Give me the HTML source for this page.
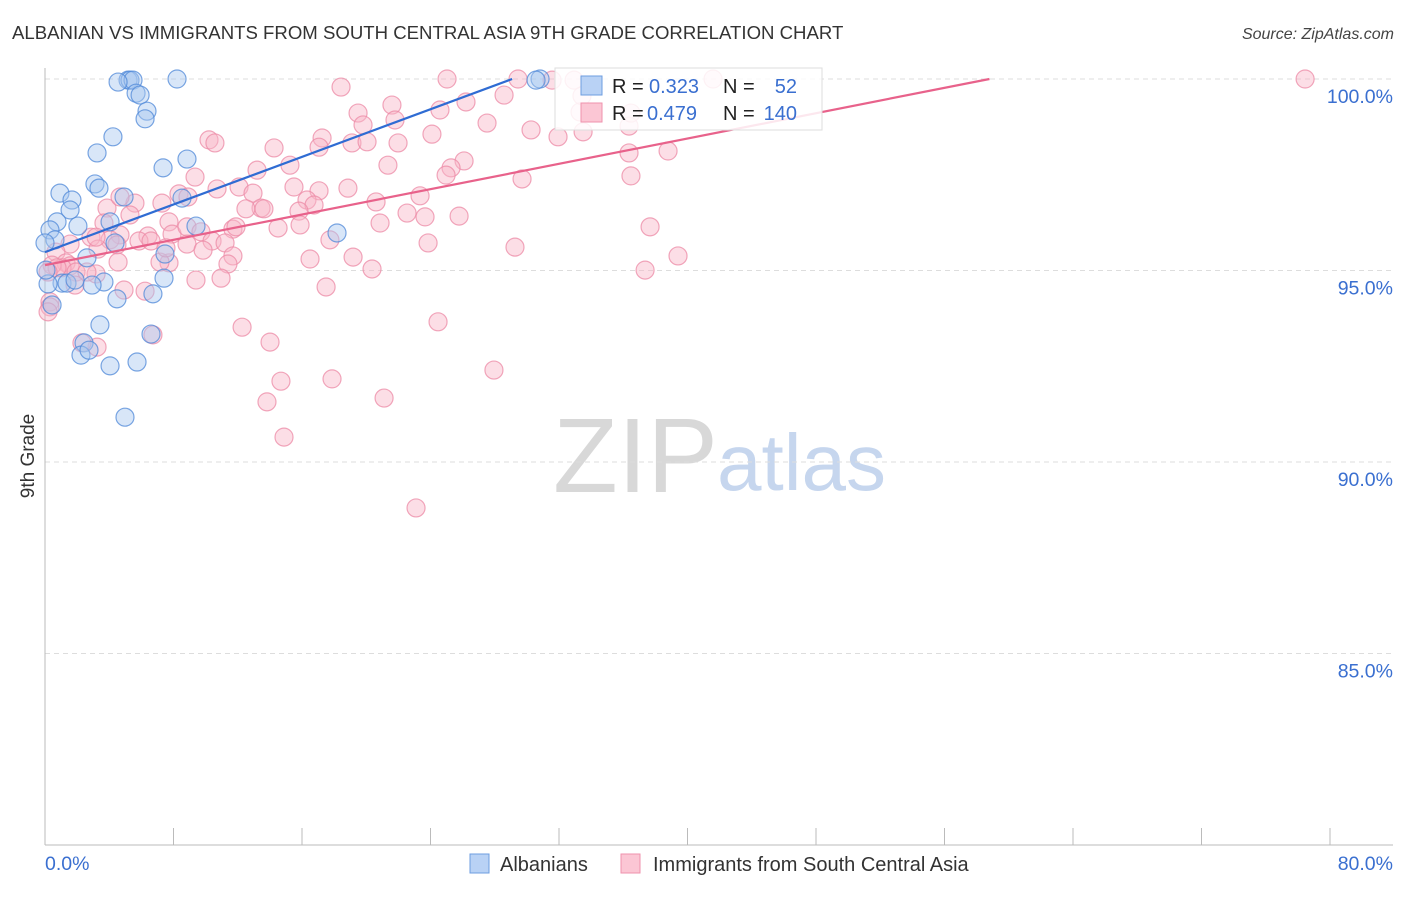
<!DOCTYPE html>
<html><head><meta charset="utf-8"><style>
body{margin:0;background:#fff;font-family:"Liberation Sans",sans-serif}
svg text{font-family:"Liberation Sans",sans-serif}
</style></head><body>
<svg id="chart" width="1406" height="892" viewBox="0 0 1406 892" xmlns="http://www.w3.org/2000/svg">
<text x="12" y="39" font-size="18.6" fill="#333">ALBANIAN VS IMMIGRANTS FROM SOUTH CENTRAL ASIA 9TH GRADE CORRELATION CHART</text>
<text x="1394" y="39" font-size="16" fill="#444" text-anchor="end" font-style="italic">Source: ZipAtlas.com</text>
<text x="0" y="0" font-size="19" fill="#333" text-anchor="middle" transform="translate(34,456) rotate(-90)">9th Grade</text>
<g>
<text x="553" y="492" font-size="106" fill="#d8d8d8" font-family="Liberation Serif">ZIP</text>
<text x="717" y="490" font-size="80" fill="#c6d6ee">atlas</text>
</g>
<g id="grid"></g><g id="axes"></g><g id="pts"></g><g id="trends"></g>
<g>
<rect x="555" y="68" width="267" height="62" fill="#fff" fill-opacity="0.85" stroke="#ddd"/>
<rect x="581" y="76" width="21" height="19" fill="#b9d2f5" stroke="#6d9de0"/>
<rect x="581" y="103" width="21" height="19" fill="#fbc6d4" stroke="#ef92ad"/>
<text x="612" y="93" font-size="20" fill="#222">R =</text>
<text x="649" y="93" font-size="20" fill="#3a6fd0">0.323</text>
<text x="723" y="93" font-size="20" fill="#222">N =</text>
<text x="797" y="93" font-size="20" fill="#3a6fd0" text-anchor="end">52</text>
<text x="612" y="120" font-size="20" fill="#222">R =</text>
<text x="647" y="120" font-size="20" fill="#3a6fd0">0.479</text>
<text x="723" y="120" font-size="20" fill="#222">N =</text>
<text x="797" y="120" font-size="20" fill="#3a6fd0" text-anchor="end">140</text>
</g>
<g>
<rect x="470" y="854" width="19" height="19" fill="#b9d2f5" stroke="#6d9de0"/>
<text x="500" y="871" font-size="20" fill="#333">Albanians</text>
<rect x="621" y="854" width="19" height="19" fill="#fbc6d4" stroke="#ef92ad"/>
<text x="653" y="871" font-size="20" fill="#333">Immigrants from South Central Asia</text>
</g>
</svg>
<script>
const yTicks=[100,95,90,85];
const yTickLabels=["100.0%","95.0%","90.0%","85.0%"];
const xTicks=[0,8,16,24,32,40,48,56,64,72,80];
const xEndLabels=["0.0%","80.0%"];
const blueX=[5.17,5.29,5.48,4.55,8.22,5.67,5.92,6.35,6.23,4.23,3.24,7.35,8.84,3.11,3.36,4.92,0.93,1.68,1.56,0.75,4.05,9.40,8.53,2.05,0.31,0.62,4.36,2.61,7.47,7.41,3.67,2.93,1.06,1.37,1.87,0.19,6.72,4.48,3.42,2.43,2.24,2.74,4.05,5.73,4.98,18.18,0.44,6.60,30.82,30.57,0,0.06];
const blueY=[99.97,99.97,99.97,99.92,100,99.63,99.58,99.16,98.96,98.49,98.07,97.68,97.91,97.26,97.15,96.92,97.02,96.84,96.58,96.27,96.27,96.16,96.89,96.16,96.06,95.80,95.72,95.33,95.43,94.80,94.70,94.62,94.67,94.67,94.75,94.65,94.39,94.26,93.58,93.11,92.79,92.92,92.51,92.61,91.17,95.98,94.10,93.34,100,99.97,95.72,95.01];
const pinkX=[78.45,25.03,29.45,41.59,32.94,18.43,28.58,21.60,19.49,26.21,24.59,27.52,19.80,21.79,30.26,31.94,24.09,17.25,19.11,20.05,10.21,10.58,33.50,36.36,17.06,21.98,38.79,14.26,36.36,26.09,21.35,25.28,15.25,24.97,13.20,29.70,36.48,9.34,12.08,15.50,18.86,10.71,17.06,12.95,8.34,8.90,20.61,23.35,16.31,16.75,7.28,5.60,15.81,22.54,13.45,12.51,13.63,3.86,25.78,23.66,5.29,20.86,37.67,7.72,3.67,14.51,11.70,15.88,11.89,6.41,7.91,8.84,9.71,2.86,4.67,4.05,5.85,8.84,10.40,11.21,17.74,23.85,29.26,6.60,4.48,3.30,1.56,0.68,9.84,11.70,16.50,19.18,20.36,39.41,4.55,7.72,11.39,7.16,1.31,1.56,1.06,0.44,0.75,0.19,1.93,37.36,9.40,10.96,3.18,2.61,1.87,4.92,6.23,17.50,0.31,0.31,0.19,12.27,24.47,6.72,3.24,14.01,2.30,27.95,14.69,17.87,13.82,21.11,14.88,23.10,33.43,33.31,31.57,36.48,4.67,3.18,7.53];
const pinkY=[100,100,100,100,99.97,99.79,99.58,99.32,99.11,99.40,99.19,98.85,98.80,98.93,98.67,98.49,98.56,98.46,98.33,98.36,98.41,98.33,98.62,98.77,98.22,98.33,98.12,98.20,98.07,97.86,97.75,97.68,97.75,97.49,97.62,97.39,97.47,97.44,97.18,97.18,97.15,97.13,97.08,97.02,97.00,96.92,96.79,96.95,96.84,96.71,96.76,96.76,96.55,96.50,96.63,96.61,96.61,96.63,96.42,96.40,96.45,96.24,96.14,96.27,96.24,96.11,96.08,96.19,96.14,95.90,95.95,96.14,96.01,95.87,95.93,95.80,95.77,95.69,95.77,95.72,95.80,95.72,95.61,95.77,95.67,95.56,95.69,95.48,95.53,95.38,95.30,95.35,95.04,95.38,95.22,95.20,95.17,95.22,95.20,95.12,95.07,95.14,95.07,94.96,94.96,95.01,94.75,94.80,94.91,94.96,94.62,94.49,94.46,94.57,94.18,94.05,93.92,93.52,93.66,93.32,93.00,93.13,93.11,92.40,92.11,92.17,91.57,91.67,90.65,88.80,99.56,99.14,99.97,99.11,96.92,95.87,95.59];
const blueTrendX=[0,29.08], blueTrendY=[95.48,100];
const pinkTrendX=[0,58.8], pinkTrendY=[95.14,100];

const NS="http://www.w3.org/2000/svg";
const xs=v=>45+v*(1285/80);
const ys=v=>79+(100-v)*(191.5/5);
function mk(tag,attrs,parent){const e=document.createElementNS(NS,tag);for(const k in attrs)e.setAttribute(k,attrs[k]);parent.appendChild(e);return e;}
const grid=document.getElementById('grid'),axes=document.getElementById('axes'),pts=document.getElementById('pts'),tr=document.getElementById('trends');
yTicks.forEach((t,i)=>{
  const l=mk('line',{x1:45,x2:1393,y1:ys(t),y2:ys(t),stroke:'#ddd','stroke-dasharray':'5,4'},grid);
  
  
  const tx=mk('text',{x:1393,y:ys(t)+24,'font-size':19.5,fill:'#3a6fd0','text-anchor':'end'},axes);
  tx.textContent=yTickLabels[i];
  
  
});
const ax=mk('line',{x1:45,x2:45,y1:68,y2:845,stroke:'#bbb'},axes);


const bx=mk('line',{x1:45,x2:1393,y1:845,y2:845,stroke:'#bbb'},axes);


xTicks.forEach(t=>{
  const l=mk('line',{x1:xs(t),x2:xs(t),y1:828,y2:845,stroke:'#bbb'},axes);
  
  
});
const xl0=mk('text',{x:45,y:870,'font-size':19.5,fill:'#3a6fd0'},axes);xl0.textContent=xEndLabels[0];


const xl1=mk('text',{x:1393,y:870,'font-size':19.5,fill:'#3a6fd0','text-anchor':'end'},axes);xl1.textContent=xEndLabels[1];


function dots(X,Y,fill,stroke,name){
  X.forEach((x,i)=>{
    const c=mk('circle',{cx:xs(x),cy:ys(Y[i]),r:9,fill:fill,'fill-opacity':0.45,stroke:stroke,'stroke-opacity':0.75,'stroke-width':1.2},pts);
    
    
  });
}
dots(pinkX,pinkY,'#f8b6c8','#ec8aa6','point-immigrants');
dots(blueX,blueY,'#a9c7f0','#4f88d8','point-albanians');
const bl=mk('line',{x1:xs(blueTrendX[0]),y1:ys(blueTrendY[0]),x2:xs(blueTrendX[1]),y2:ys(blueTrendY[1]),stroke:'#2f6cd3','stroke-width':2.2},tr);


const pl=mk('line',{x1:xs(pinkTrendX[0]),y1:ys(pinkTrendY[0]),x2:xs(pinkTrendX[1]),y2:ys(pinkTrendY[1]),stroke:'#e8628b','stroke-width':2.2},tr);


</script>
</body></html>
